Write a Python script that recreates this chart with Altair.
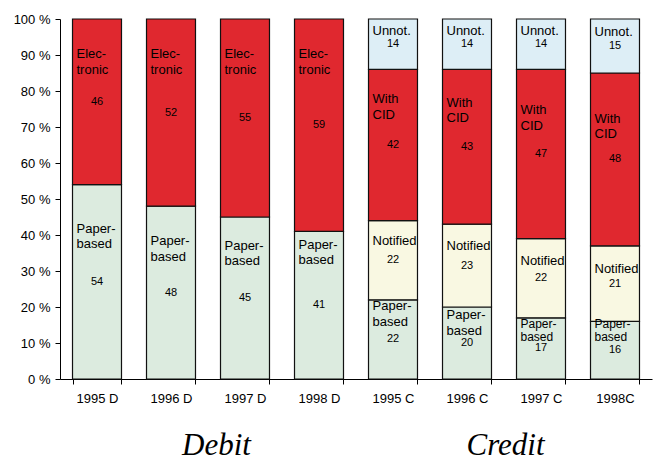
import altair as alt
import pandas as pd

categories = ["1995 D", "1996 D", "1997 D", "1998 D", "1995 C", "1996 C", "1997 C", "1998C"]
paper = [54, 48, 45, 41, 22, 20, 17, 16]
electronic = [46, 52, 55, 59, None, None, None, None]
notified = [None, None, None, None, 22, 23, 22, 21]
with_cid = [None, None, None, None, 42, 43, 47, 48]
unnot = [None, None, None, None, 14, 14, 14, 15]

segment_order = ["Paper-based", "Electronic", "Notified", "With CID", "Unnot."]
segment_text = ["Paper-\nbased", "Elec-\ntronic", "Notified", "With\nCID", "Unnot."]
segment_colors = ["#DCEBDF", "#E0282F", "#F9F8E2", "#E0282F", "#DDEEF6"]

# where the segment names sit (first line, in % units)
paper_name_y = [41.4, 38, 36.7, 37, 20, 17.5, 15, 15]
elec_name_y = [90, 90, 90, 90, None, None, None, None]
notified_name_y = [None, None, None, None, 38, 36.7, 32.5, 30.3]
cid_name_y = [None, None, None, None, 77.5, 76.4, 74.4, 72]
unnot_name_y = [None, None, None, None, 96.4, 96.4, 96.4, 96.1]

groups = ["Debit", "Credit"]
group_anchor = ["1997 D", "1997 C"]

series = [paper, electronic, notified, with_cid, unnot]
name_ys = [paper_name_y, elec_name_y, notified_name_y, cid_name_y, unnot_name_y]

rows = []
for i, cat in enumerate(categories):
    base = 0
    for s, seg in enumerate(segment_order):
        v = series[s][i]
        if v is None:
            continue
        small = seg == "Paper-based" and cat in ("1997 C", "1998C")
        rows.append(dict(cat=cat, seg=seg, start=base, end=base + v, mid=base + v / 2,
                         value=str(v), name=segment_text[s], name_y=name_ys[s][i],
                         small=small))
        base += v
df = pd.DataFrame(rows)
gdf = pd.DataFrame({"group": groups, "anchor": group_anchor})

xscale = alt.Scale(domain=categories, paddingInner=0.338, paddingOuter=0.169)
x_axis = alt.Axis(title=None, labelAngle=0, tickBand="extent", labelFontSize=13,
                  labelPadding=8, domainColor="black", tickColor="black",
                  tickSize=5, labelColor="black", labelFont="Liberation Sans")
yscale = alt.Scale(domain=[0, 100], nice=False)
y_axis = alt.Axis(title=None, values=list(range(0, 101, 10)), labelExpr="datum.value + ' %'",
                  grid=False, labelFontSize=13, labelPadding=5, tickSize=5,
                  domainColor="black", tickColor="black", labelColor="black",
                  labelFont="Liberation Sans", labelOverlap=False)


def X(field, band=0.5):
    return alt.X(field, scale=xscale, sort=categories, axis=x_axis, bandPosition=band)


def Y(field):
    return alt.Y(field, scale=yscale, axis=y_axis)


bars = alt.Chart(df).mark_bar(stroke="#111", strokeWidth=1.2).encode(
    x=alt.X("cat:N", scale=xscale, sort=categories, axis=x_axis),
    y=Y("start:Q"),
    y2="end:Q",
    color=alt.Color("seg:N", scale=alt.Scale(domain=segment_order, range=segment_colors), legend=None),
)

nums = alt.Chart(df).mark_text(fontSize=11, baseline="middle", font="Liberation Sans", color="black").encode(
    x=X("cat:N"),
    y=Y("mid:Q"),
    text="value:N",
)

names = alt.Chart(df).transform_filter("!datum.small").mark_text(
    fontSize=13, baseline="top", align="left", lineBreak="\n", lineHeight=15.5, dx=4, dy=-7,
    font="Liberation Sans", color="black").encode(
    x=X("cat:N", 0),
    y=Y("name_y:Q"),
    text="name:N",
)

names_small = alt.Chart(df).transform_filter("datum.small").mark_text(
    fontSize=12, baseline="top", align="left", lineBreak="\n", lineHeight=13, dx=4, dy=-6,
    font="Liberation Sans", color="black").encode(
    x=X("cat:N", 0),
    y=Y("name_y:Q"),
    text="name:N",
)


def group_label(name, dx):
    return alt.Chart(gdf).transform_filter(alt.datum.group == name).mark_text(
        fontSize=31, fontStyle="italic", font="'Liberation Serif', 'Times New Roman', serif",
        baseline="alphabetic", dx=dx, color="black").encode(
        x=alt.X("anchor:N", scale=xscale, sort=categories, axis=x_axis, bandPosition=0),
        y=alt.value(436),
        text="group:N",
    )


chart = alt.layer(bars, nums, names, names_small,
                  group_label("Debit", -4), group_label("Credit", -11)).properties(
    width=592, height=360,
    autosize=alt.AutoSizeParams(type="none"),
    padding={"left": 52, "top": 11, "right": 2, "bottom": 82},
).configure_view(stroke=None)

chart.save("out.html", embed_options={"renderer": "svg", "actions": False})
